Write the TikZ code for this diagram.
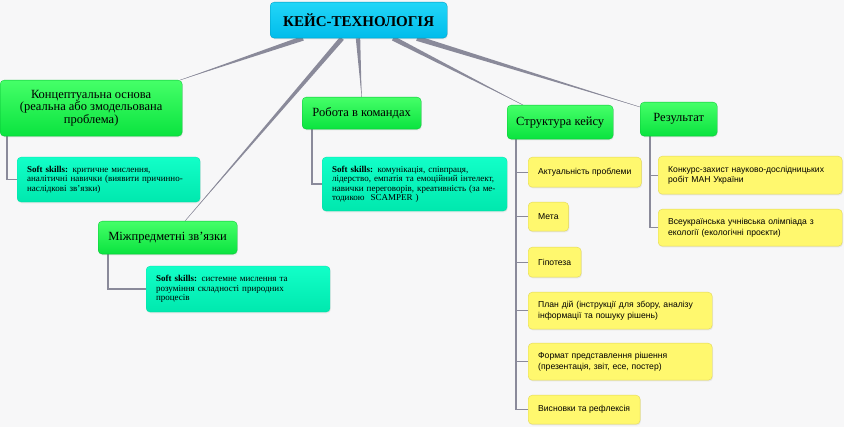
\documentclass[tikz,border=0pt]{standalone}
\usepackage{fontspec}
\setmainfont{Liberation Serif}
\newfontfamily\itemfont{Liberation Sans}
\usetikzlibrary{calc}
\usetikzlibrary{backgrounds}
\usetikzlibrary{shadows}

\definecolor{paper}{HTML}{F7F7F8}
\definecolor{coreTop}{HTML}{22D6F8}
\definecolor{coreBot}{HTML}{00BCEB}
\definecolor{topicTop}{HTML}{45FF68}
\definecolor{topicBot}{HTML}{0AE33F}
\definecolor{skillTop}{HTML}{12FFC8}
\definecolor{skillBot}{HTML}{00E8AE}
\definecolor{itemFill}{HTML}{FFF86E}
\definecolor{itemEdge}{HTML}{E2D75A}
\definecolor{branch}{HTML}{8A8A9A}

% tapered spoke from a point on the core to a child node
\newcommand{\spoke}[3]{%
  \fill[branch] ($(#1)!#3!90:(#2)$) -- (#2) -- ($(#1)!#3!-90:(#2)$) -- cycle;}

\begin{document}
\begin{tikzpicture}
      [ x=1pt, y=-1pt
        , box/.style={anchor=north west, rounded corners=4pt,
            drop shadow={opacity=0.12, shadow xshift=0.8pt, shadow yshift=-1.2pt}}
        , core/.style={box, top color=coreTop, bottom color=coreBot, draw=coreBot!80!black,
            line width=0.3pt, minimum width=177pt, minimum height=36pt,
            font=\bfseries\fontsize{15}{18}\selectfont}
        , topic/.style={box, top color=topicTop, bottom color=topicBot, draw=topicBot!85!black,
            line width=0.3pt, align=center, inner sep=2pt,
            font=\fontsize{12.5}{12.8}\selectfont}
        , skill/.style={box, top color=skillTop, bottom color=skillBot, draw=skillBot!90!black,
            line width=0.2pt, align=left, inner xsep=10pt,
            font=\fontsize{9}{9.4}\selectfont}
        , item/.style={box, fill=itemFill, draw=itemEdge, line width=0.4pt,
            align=left, inner xsep=10pt,
            font=\itemfont\fontsize{8.6}{10.6}\selectfont}
        , twig/.style={draw=branch, line width=1.3pt}
      ]
      \useasboundingbox (0,0) rectangle (844,427);

      \node (core) [core] at (270,2) {КЕЙС-ТЕХНОЛОГІЯ};

      \node (conc) [topic, minimum width=182pt, minimum height=56pt] at (0,80)
        {Концептуальна основа\\(реальна або змодельована\\проблема)};
      \node (ss1) [skill, text width=163pt, minimum height=45pt] at (17,157)
        {\textbf{Soft skills:} критичне мислення,\\аналітичні навички (виявити причинно-\\наслідкові зв'язки)};

      \node (mizh) [topic, minimum width=139pt, minimum height=33pt] at (98,221)
        {Міжпредметні зв'язки};
      \node (ss3) [skill, text width=164pt, minimum height=46pt] at (146,266)
        {\textbf{Soft skills:} системне мислення та\\розуміння складності природних\\процесів};

      \node (team) [topic, minimum width=119pt, minimum height=32pt] at (302,97)
        {Робота в командах};
      \node (ss2) [skill, text width=165pt, minimum height=54pt] at (322,157)
        {\textbf{Soft skills:} комунікація, співпраця,\\лідерство, емпатія та емоційний інтелект,\\навички переговорів, креативність (за ме-\\тодикою\ \ SCAMPER )};

      \node (struct) [topic, minimum width=106pt, minimum height=34pt] at (507,105)
        {Структура кейсу};
      \node (i1) [item, minimum height=30pt] at (528,157) {Актуальність проблеми};
      \node (i2) [item, minimum height=29pt] at (528,202) {Мета};
      \node (i3) [item, minimum height=30pt] at (528,247) {Гіпотеза};
      \node (i4) [item, text width=164pt, minimum height=37pt] at (528,292)
        {План дій (інструкції для збору, аналізу\\інформації та пошуку рішень)};
      \node (i5) [item, text width=164pt, minimum height=37pt] at (528,343)
        {Формат представлення рішення\\(презентація, звіт, есе, постер)};
      \node (i6) [item, minimum height=29pt] at (528,395) {Висновки та рефлексія};

      \node (res) [topic, minimum width=77pt, minimum height=34pt] at (640,102) {Результат};
      \node (r1) [item, text width=164pt, minimum height=38pt] at (658,156)
        {Конкурс-захист науково-дослідницьких\\робіт МАН України};
      \node (r2) [item, text width=164pt, minimum height=37pt] at (658,209)
        {Всеукраїнська учнівська олімпіада з\\екології (екологічні проєкти)};

      \begin{scope}[on background layer]
      \fill[paper] (0,0) rectangle (844,427);
      \coordinate (k1) at ([xshift=33pt]core.south west);
      \coordinate (k2) at ([xshift=72pt]core.south west);
      \coordinate (k3) at ([xshift=88pt]core.south west);
      \coordinate (k4) at ([xshift=123pt]core.south west);
      \coordinate (k5) at ([xshift=147pt]core.south west);
      \coordinate (e1) at ([xshift=-2pt]conc.north east);
      \coordinate (e2) at ([xshift=87pt]mizh.north west);
      \coordinate (e4) at ([xshift=16pt]struct.north west);
      \coordinate (e5) at ([yshift=-5pt]res.north west);
      \spoke{k1}{e1}{2.4pt}
      \spoke{k2}{e2}{2.4pt}
      \spoke{k3}{team.north}{2.2pt}
      \spoke{k4}{e4}{2.4pt}
      \spoke{k5}{e5}{2.6pt}
      \draw[branch, line width=0.4pt] (k1) -- (e1) (k2) -- (e2) (k3) -- (team.north)
        (k4) -- (e4) (k5) -- (e5);

      \draw[twig] ([xshift=7pt]conc.south west) |- (ss1.west);
      \draw[twig] ([xshift=10pt]mizh.south west) |- (ss3.west);
      \draw[twig] ([xshift=10pt]team.south west) |- (ss2.west);
      \foreach \k in {1,...,6}
        \draw[twig] ([xshift=9pt]struct.south west) |- (i\k.west);
      \draw[twig] ([xshift=10pt]res.south west) |- (r1.west);
      \draw[twig] ([xshift=10pt]res.south west) |- (r2.west);
      \end{scope}

    \end{tikzpicture}
\end{document}
